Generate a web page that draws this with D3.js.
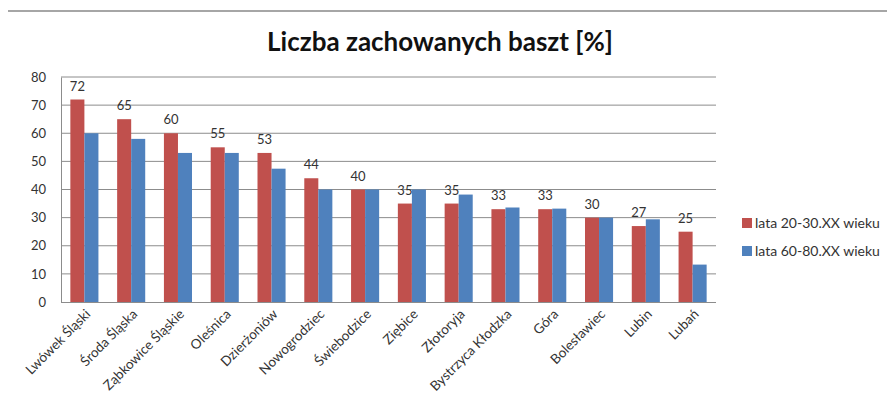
<!DOCTYPE html>
<html>
<head>
<meta charset="utf-8">
<script src="https://cdn.jsdelivr.net/npm/d3@7"></script>
<style>
  body { margin: 0; background: #fff; }
  svg { display: block; font-family: Lato, "Open Sans", sans-serif; }
</style>
</head>
<body>
<div id="chart"></div>
<script>
var categories = ['Lwówek Śląski', 'Środa Śląska', 'Ząbkowice Śląskie', 'Oleśnica', 'Dzierżoniów',
  'Nowogrodziec', 'Świebodzice', 'Ziębice', 'Złotoryja', 'Bystrzyca Kłodzka', 'Góra',
  'Bolesławiec', 'Lubin', 'Lubań'];
var series = ['lata 20-30.XX wieku', 'lata 60-80.XX wieku'];
var values2030 = [72, 65, 60, 55, 53, 44, 40, 35, 35, 33, 33, 30, 27, 25];
var values6080 = [60, 58, 53, 53, 47.4, 40, 40, 40, 38.2, 33.6, 33.2, 30, 29.4, 13.3];
var yTicks = [0, 10, 20, 30, 40, 50, 60, 70, 80];
var colors = ['#c0504d', '#4f81bd'];

var width = 887, height = 407;
var margin = { top: 77, right: 171, bottom: 105, left: 61 };

var svg = d3.select('#chart').append('svg').attr('width', width).attr('height', height);

// frame line at top
svg.append('line').attr('x1', 8).attr('x2', width).attr('y1', 11).attr('y2', 11)
  .attr('stroke', '#a6a6a6').attr('stroke-width', 2);

svg.append('text').text('Liczba zachowanych baszt [%]')
  .attr('x', 440).attr('y', 51).attr('text-anchor', 'middle')
  .style('font-size', '26px').style('font-weight', 'bold').style('fill', '#111');

var x0 = d3.scaleBand().domain(categories)
  .range([margin.left, width - margin.right]).paddingInner(0.4).paddingOuter(0.2);
var x1 = d3.scaleBand().domain(series).range([0, x0.bandwidth()]);
var y = d3.scaleLinear().domain([0, 80]).range([height - margin.bottom, margin.top]);

// gridlines
svg.append('g').selectAll('line').data(yTicks.slice(1)).enter().append('line')
  .attr('x1', margin.left).attr('x2', width - margin.right)
  .attr('y1', function (d) { return y(d); }).attr('y2', function (d) { return y(d); })
  .attr('stroke', '#8c8c8c').attr('stroke-width', 1);

var rows = categories.map(function (c, i) { return { cat: c, vals: [values2030[i], values6080[i]] }; });

var groups = svg.append('g').selectAll('g').data(rows).enter().append('g')
  .attr('transform', function (d) { return 'translate(' + x0(d.cat) + ',0)'; });

groups.selectAll('rect').data(function (d) { return d.vals.map(function (v, j) { return { s: series[j], v: v, j: j }; }); })
  .enter().append('rect')
  .attr('x', function (d) { return x1(d.s); })
  .attr('width', x1.bandwidth())
  .attr('y', function (d) { return y(d.v); })
  .attr('height', function (d) { return y(0) - y(d.v); })
  .attr('fill', function (d) { return colors[d.j]; });

// value labels over the red bars
groups.append('text')
  .attr('x', x1(series[0]) + x1.bandwidth() / 2)
  .attr('y', function (d) { return y(d.vals[0]) - 9; })
  .attr('text-anchor', 'middle')
  .style('font-size', '13px').style('fill', '#333')
  .text(function (d) { return d.vals[0]; });

// y axis
var yAxis = d3.axisLeft(y).tickValues(yTicks).tickSize(0).tickPadding(15);
var gy = svg.append('g').attr('transform', 'translate(' + margin.left + ',0)').call(yAxis);
gy.select('.domain').attr('stroke', '#8c8c8c');
gy.selectAll('text').style('font-size', '13px').style('fill', '#333').style('font-family', 'Lato, sans-serif');

// x axis
var xAxis = d3.axisBottom(x0).tickSize(0).tickSizeOuter(0);
var gx = svg.append('g').attr('transform', 'translate(0,' + y(0) + ')').call(xAxis);
gx.select('.domain').attr('stroke', '#8c8c8c').attr('d', 'M' + margin.left + ',0.5H' + (width - margin.right));
gx.selectAll('text')
  .attr('text-anchor', 'end').attr('dy', 0).attr('y', 0)
  .attr('transform', 'translate(7,13) rotate(-45)')
  .style('font-size', '13.5px').style('fill', '#333').style('font-family', 'Lato, sans-serif');

// legend
var legend = svg.append('g').attr('transform', 'translate(742,218)');
var li = legend.selectAll('g').data(series).enter().append('g')
  .attr('transform', function (d, i) { return 'translate(0,' + (i * 28) + ')'; });
li.append('rect').attr('width', 10).attr('height', 10).attr('fill', function (d, i) { return colors[i]; });
li.append('text').attr('x', 13).attr('y', 5).attr('dy', '0.35em')
  .style('font-size', '14px').style('fill', '#333')
  .text(function (d) { return d; });
</script>
</body>
</html>
